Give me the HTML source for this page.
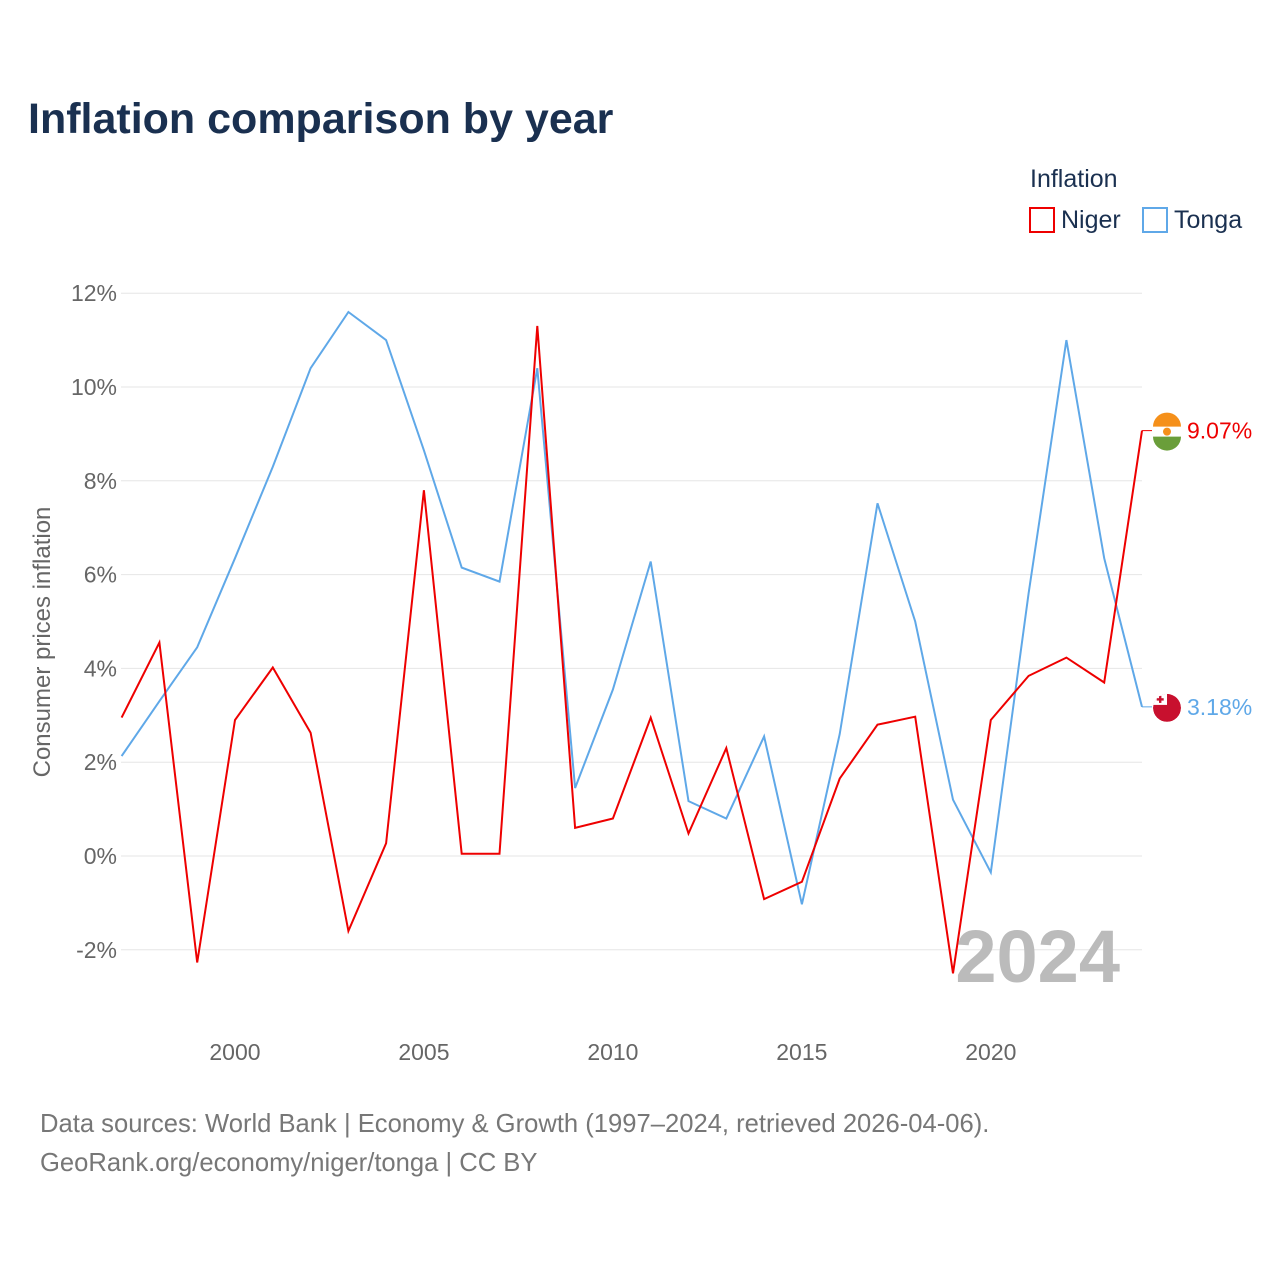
<!DOCTYPE html>
<html><head><meta charset="utf-8"><style>
body{margin:0;background:#fff;font-family:"Liberation Sans",sans-serif;}
svg text{font-family:"Liberation Sans",sans-serif;}
</style></head><body>
<svg id="chart" width="1280" height="1280" xmlns="http://www.w3.org/2000/svg">
<defs><clipPath id="tclip"><circle cx="1167" cy="707" r="14"/></clipPath></defs>
<rect width="1280" height="1280" fill="#fff"/>
<text x="28" y="133" font-size="43" font-weight="bold" fill="#1a3050">Inflation comparison by year</text>
<text x="1030" y="187" font-size="25" fill="#1a3050">Inflation</text>
<g><rect x="1030" y="208" width="24" height="24" fill="none" stroke="#ee0000" stroke-width="2"/><text x="1061" y="228" font-size="25" fill="#1a3050">Niger</text></g>
<g><rect x="1143" y="208" width="24" height="24" fill="none" stroke="#5fa8e8" stroke-width="2"/><text x="1174" y="228" font-size="25" fill="#1a3050">Tonga</text></g>
<g id="grid"></g>
<g id="xticks"></g>
<text transform="translate(50,642) rotate(-90)" text-anchor="middle" font-size="24" fill="#666">Consumer prices inflation</text>
<text x="1120" y="982" text-anchor="end" font-size="74" font-weight="bold" fill="#bbb">2024</text>
<g id="series"></g>
<text x="40" y="1132" font-size="25.6" fill="#777">Data sources: World Bank | Economy &amp; Growth (1997–2024, retrieved 2026-04-06).</text>
<text x="40" y="1171" font-size="25.6" fill="#777">GeoRank.org/economy/niger/tonga | CC BY</text>
</svg>
<script>
const years=[1997,1998,1999,2000,2001,2002,2003,2004,2005,2006,2007,2008,2009,2010,2011,2012,2013,2014,2015,2016,2017,2018,2019,2020,2021,2022,2023,2024];
const niger=[2.95,4.55,-2.27,2.9,4.02,2.63,-1.6,0.27,7.8,0.05,0.05,11.3,0.6,0.8,2.95,0.48,2.3,-0.92,-0.55,1.65,2.8,2.97,-2.5,2.9,3.84,4.23,3.7,9.07];
const tonga=[2.13,3.3,4.45,6.35,8.3,10.4,11.6,11.0,8.65,6.15,5.85,10.4,1.45,3.55,6.28,1.17,0.8,2.55,-1.03,2.6,7.52,5.0,1.2,-0.35,5.6,11.0,6.35,3.18];
const yTicks=[-2,0,2,4,6,8,10,12];
const xTicks=[2000,2005,2010,2015,2020];
const NS='http://www.w3.org/2000/svg';
const x=v=>121.6+(v-1997)*(1142-121.6)/27;
const y=v=>856-v*46.9;
function mk(t,a,p){const e=document.createElementNS(NS,t);for(const k in a)e.setAttribute(k,a[k]);p.appendChild(e);return e;}
const grid=document.getElementById('grid');
yTicks.forEach(t=>{
 const l=mk('line',{x1:121,x2:1142,y1:y(t),y2:y(t),stroke:'#e6e6e6','stroke-width':1},grid);
 
 
 const tx=mk('text',{x:117,y:y(t)+8,'text-anchor':'end','font-size':23,fill:'#666'},grid);
 tx.textContent=(t<0?'-'+Math.abs(t):t)+'%';
 
 
});
const xg=document.getElementById('xticks');
xTicks.forEach(t=>{
 const tx=mk('text',{x:x(t),y:1060,'text-anchor':'middle','font-size':23,fill:'#666'},xg);
 tx.textContent=t;
 
 
});
const sg=document.getElementById('series');
function line(vals,color,name){
 const p=mk('path',{d:vals.map((v,i)=>(i?'L':'M')+x(years[i]).toFixed(1)+','+y(v).toFixed(1)).join(''),fill:'none',stroke:color,'stroke-width':2},sg);
 
 
 const last=vals[vals.length-1],ly=y(last);
 mk('line',{x1:1142,x2:1152,y1:ly,y2:ly,stroke:color,'stroke-width':1},sg);
 const fg=mk('g',{},sg);
 
 
 if(name==='niger'){
  mk('circle',{cx:1167,cy:ly+1,r:14,fill:'#fff'},fg);
  mk('path',{d:`M1153,${ly-4} A14,14 0 0 1 1181,${ly-4} Z`,fill:'#f5901a'},fg);
  mk('path',{d:`M1153,${ly+6} A14,14 0 0 0 1181,${ly+6} Z`,fill:'#6a9e3a'},fg);
  mk('circle',{cx:1167,cy:ly+1,r:4,fill:'#f5901a'},fg);
 } else {
  const g2=mk('g',{transform:`translate(0,${(ly+1-707).toFixed(1)})`,'clip-path':'url(#tclip)'},fg);
  mk('circle',{cx:1167,cy:707,r:14,fill:'#c8102e'},g2);
  mk('rect',{x:1153,y:693,width:14,height:11,fill:'#fff'},g2);
  mk('rect',{x:1159,y:695,width:2.4,height:7,fill:'#c8102e'},g2);
  mk('rect',{x:1156.7,y:697.3,width:7,height:2.4,fill:'#c8102e'},g2);
 }
 const t=mk('text',{x:1187,y:ly+8,'font-size':23,fill:color},sg);
 t.textContent=last.toFixed(2)+'%';
 
 
}
line(tonga,'#5fa8e8','tonga');
line(niger,'#ee0000','niger');
</script>
</body></html>
